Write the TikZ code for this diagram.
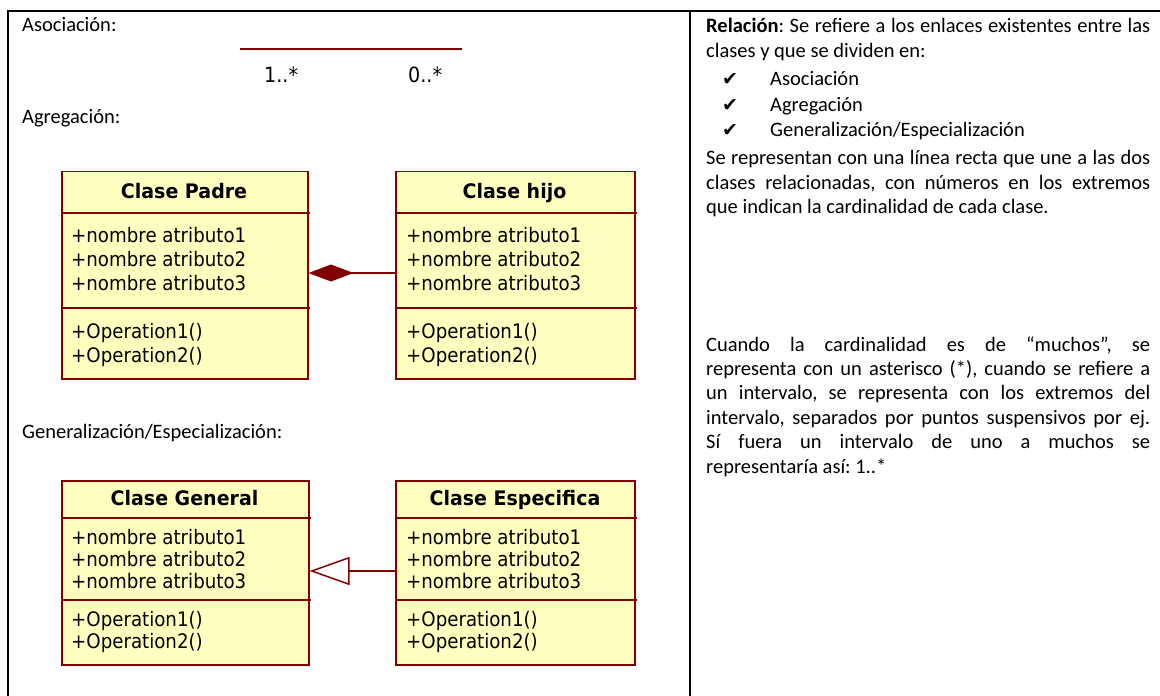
\documentclass[tikz,border=0pt]{standalone}
\usepackage{fontspec}
\setmainfont{Carlito}
\newfontfamily\umlfont[FakeStretch=0.91, BoldFeatures={FakeStretch=0.95}]{DejaVu Sans}
\newfontfamily\symfont{DejaVu Sans}
\usetikzlibrary{arrows.meta}
\definecolor{umlred}{HTML}{800000}
\definecolor{umlfill}{HTML}{FFFFC0}
\frenchspacing

\tikzset{
  frame/.style={line width=2bp, draw=black},
  classbox/.style={draw=umlred, fill=umlfill, line width=1.5bp, anchor=north west,
    inner sep=0pt, rectangle},
  sepline/.style={draw=umlred, line width=1.5bp},
  umltext/.style={font=\umlfont\fontsize{20bp}{24bp}\selectfont, inner sep=0pt, anchor=base west},
  umlhead/.style={font=\umlfont\bfseries\fontsize{20bp}{24bp}\selectfont, inner sep=0pt, anchor=base},
  doctext/.style={font=\fontsize{20.5bp}{24.4bp}\selectfont, inner sep=0pt, anchor=base west},
  para/.style={doctext, text width=444bp, align=justify},
  chk/.style={font=\symfont\fontsize{19bp}{20bp}\selectfont, inner sep=0pt, anchor=base west},
  link/.style={draw=umlred, line width=1.5bp},
}

\begin{document}
\begin{tikzpicture}[x=1bp, y=-1bp]
\useasboundingbox (0,0) rectangle (1160,696);

% table frame
\draw[frame] (8,696) -- (8,11) -- (1160,11);
\draw[frame, line width=1.5bp] (690,11) -- (690,696);

% ---------- left column ----------
\node[doctext] (lblAsoc) at (22,32) {Asociación:};
\coordinate (asocA) at (240,49);
\coordinate (asocB) at (462,49);
\draw[link, line width=2bp] (asocA) -- (asocB);
\node[umltext, font=\umlfont\fontsize{21bp}{24bp}\selectfont] (multA) at (264,83) {1..*};
\node[umltext, font=\umlfont\fontsize{21bp}{24bp}\selectfont] (multB) at (408,83) {0..*};

\node[doctext] (lblAgreg) at (22,124) {Agregación:};
\node[doctext] (lblGen) at (22,438) {Generalización/Especialización:};

% class boxes
\node[classbox, minimum width=246bp, minimum height=207bp] (padre) at (61,171) {};
\node[classbox, minimum width=239bp, minimum height=207bp] (hijo) at (395,171) {};
\node[classbox, minimum width=247bp, minimum height=184bp] (general) at (61,480) {};
\node[classbox, minimum width=239bp, minimum height=184bp] (espec) at (395,480) {};

% compartment separators
\draw[sepline] (61,213) -- (310,213);
\draw[sepline] (61,308) -- (310,308);
\draw[sepline] (395,213) -- (637,213);
\draw[sepline] (395,308) -- (637,308);
\draw[sepline] (61,518) -- (311,518);
\draw[sepline] (61,600) -- (311,600);
\draw[sepline] (395,518) -- (637,518);
\draw[sepline] (395,600) -- (637,600);

% Clase Padre
\node[umlhead] (padreName) at (184,199) {Clase Padre};
\node[umltext] (padreA1) at (71,242) {+nombre atributo1};
\node[umltext] (padreA2) at (71,266) {+nombre atributo2};
\node[umltext] (padreA3) at (71,290) {+nombre atributo3};
\node[umltext] (padreO1) at (71,338) {+Operation1()};
\node[umltext] (padreO2) at (71,362) {+Operation2()};

% Clase hijo
\node[umlhead] (hijoName) at (514.5,199) {Clase hijo};
\node[umltext] (hijoA1) at (406,242) {+nombre atributo1};
\node[umltext] (hijoA2) at (406,266) {+nombre atributo2};
\node[umltext] (hijoA3) at (406,290) {+nombre atributo3};
\node[umltext] (hijoO1) at (406,338) {+Operation1()};
\node[umltext] (hijoO2) at (406,362) {+Operation2()};

% Clase General
\node[umlhead] (generalName) at (184.5,505) {Clase General};
\node[umltext] (generalA1) at (71,544) {+nombre atributo1};
\node[umltext] (generalA2) at (71,566) {+nombre atributo2};
\node[umltext] (generalA3) at (71,588) {+nombre atributo3};
\node[umltext] (generalO1) at (71,626) {+Operation1()};
\node[umltext] (generalO2) at (71,648) {+Operation2()};

% Clase Especifica
\node[umlhead] (especName) at (515,505) {Clase Especifica};
\node[umltext] (especA1) at (406,544) {+nombre atributo1};
\node[umltext] (especA2) at (406,566) {+nombre atributo2};
\node[umltext] (especA3) at (406,588) {+nombre atributo3};
\node[umltext] (especO1) at (406,626) {+Operation1()};
\node[umltext] (especO2) at (406,648) {+Operation2()};

% relationships
\coordinate (aggY) at (0,273);
\draw[link, -{Diamond[length=45bp, width=17bp, fill=umlred]}]
  (hijo.west |- aggY) -- (padre.east |- aggY);
\coordinate (genY) at (0,571);
\draw[link, -{Triangle[length=40bp, width=28bp, fill=white]}]
  (espec.west |- genY) -- (general.east |- genY);

% ---------- right column ----------
\node[para] (pRel) at (706,33)
  {\textbf{Relación}: Se refiere a los enlaces existentes entre las\linebreak
   clases y que se dividen en:};
\node[chk] (chk1) at (722,86) {✔};
\node[doctext] (item1) at (770,86) {Asociación};
\node[chk] (chk2) at (722,112) {✔};
\node[doctext] (item2) at (770,112) {Agregación};
\node[chk] (chk3) at (722,137) {✔};
\node[doctext] (item3) at (770,137) {Generalización/Especialización};

\node[para] (pLinea) at (706,165)
  {Se representan con una línea recta que une a las dos\linebreak
   clases relacionadas, con números en los extremos\linebreak
   que indican la cardinalidad de cada clase.};

\node[para] (pCard) at (706,351)
  {Cuando la cardinalidad es de “muchos”, se\linebreak
   representa con un asterisco (*), cuando se refiere a\linebreak
   un intervalo, se representa con los extremos del\linebreak
   intervalo, separados por puntos suspensivos por ej.\linebreak
   Sí fuera un intervalo de uno a muchos se\linebreak
   representaría así: 1..*};
\end{tikzpicture}
\end{document}
